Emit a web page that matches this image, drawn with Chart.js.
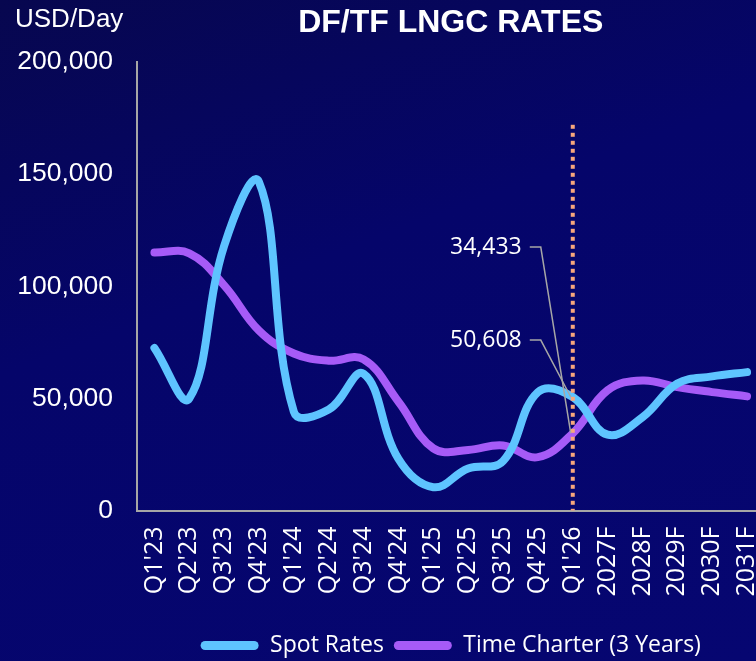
<!DOCTYPE HTML>
<html>
<head>
  <script src="https://cdn.jsdelivr.net/npm/chart.js"></script>
  <style>
    html, body { margin: 0; padding: 0; width: 756px; height: 661px; overflow: hidden; }
    body { background: linear-gradient(160deg, #07074f 0%, #05056a 40%, #060671 100%); }
  </style>
  <script>
    // categories and series
    const categories = ["Q1'23", "Q2'23", "Q3'23", "Q4'23", "Q1'24", "Q2'24", "Q3'24", "Q4'24",
      "Q1'25", "Q2'25", "Q3'25", "Q4'25", "Q1'26", "2027F", "2028F", "2029F", "2030F", "2031F"];
    const spotRates = [72500, 50000, 118000, 146500, 44000, 45000, 61000, 23000, 10400, 18700,
      22000, 52800, 50608, 33800, 41600, 56600, 59800, 61700];
    const timeCharter = [115000, 114700, 100400, 80200, 70000, 66800, 67400, 48500, 27700, 27000,
      29000, 23800, 34433, 53600, 58000, 55000, 52800, 50900];
    const yTicks = [0, 50000, 100000, 150000, 200000];

    const markerIndex = 12; // Q1'26, where the dotted line and labels sit

    // extra drawing: unit label, dotted marker, callout labels
    const extras = {
      id: 'extras',
      afterDatasetsDraw(chart) {
        const ctx = chart.ctx;
        const x = chart.scales.x;
        const y = chart.scales.y;
        const mx = x.getPixelForValue(markerIndex);

        ctx.save();
        // dotted orange line
        ctx.strokeStyle = '#f7a77c';
        ctx.lineWidth = 4;
        ctx.setLineDash([4, 4]);
        ctx.beginPath();
        ctx.moveTo(mx, y.getPixelForValue(172000));
        ctx.lineTo(mx, y.getPixelForValue(0));
        ctx.stroke();
        ctx.setLineDash([]);

        // callouts: label level given in axis units
        const callouts = [
          { ds: 1, level: 117500 },
          { ds: 0, level: 76000 }
        ];
        ctx.font = '23px "Open Sans"';
        ctx.textAlign = 'right';
        ctx.textBaseline = 'middle';
        callouts.forEach(c => {
          const v = chart.data.datasets[c.ds].data[markerIndex];
          const py = y.getPixelForValue(v);
          const ly = y.getPixelForValue(c.level);
          ctx.strokeStyle = '#a6a6a6';
          ctx.lineWidth = 1.5;
          ctx.beginPath();
          ctx.moveTo(mx - 43, ly);
          ctx.lineTo(mx - 32, ly);
          ctx.lineTo(mx - 2, py);
          ctx.stroke();
          ctx.fillStyle = '#ffffff';
          ctx.fillText(v.toLocaleString('en-US'), mx - 51, ly);
        });
        ctx.restore();
      },
      afterDraw(chart) {
        const ctx = chart.ctx;
        ctx.save();
        ctx.font = '26px "Liberation Sans"';
        ctx.fillStyle = '#ffffff';
        ctx.textAlign = 'left';
        ctx.textBaseline = 'middle';
        ctx.fillText('USD/Day', 15, 20);
        ctx.restore();
      }
    };

    window.onload = function() {
      const ctx = document.getElementById('myChart').getContext('2d');
      new Chart(ctx, {
        type: 'line',
        data: {
          labels: categories,
          datasets: [{
            label: 'Spot Rates',
            data: spotRates,
            borderColor: '#5ec4ff',
            backgroundColor: '#5ec4ff',
            borderWidth: 8,
            tension: 0.4,
            pointRadius: 0,
            borderCapStyle: 'round',
            borderJoinStyle: 'round'
          }, {
            label: 'Time Charter (3 Years)',
            data: timeCharter,
            borderColor: '#a65bf7',
            backgroundColor: '#a65bf7',
            borderWidth: 8,
            tension: 0.4,
            pointRadius: 0,
            borderCapStyle: 'round',
            borderJoinStyle: 'round'
          }]
        },
        options: {
          responsive: false,
          animation: false,
          locale: 'en-US',
          layout: { padding: { left: 0, right: 1.5, top: 0, bottom: -6 } },
          scales: {
            x: {
              offset: true,
              grid: { display: false, drawTicks: false },
              border: { display: true, color: '#a6a6a6', width: 2 },
              ticks: {
                color: '#ffffff',
                font: { family: '"Open Sans"', size: 25 },
                minRotation: 90,
                maxRotation: 90,
                autoSkip: false,
                padding: 16
              },
              afterFit(scale) {
                scale.height = 113.5;
                scale.paddingLeft = 0;
                scale.paddingRight = 0;
              }
            },
            y: {
              min: 0,
              max: 200000,
              grid: { display: false, drawTicks: false },
              border: { display: true, color: '#a6a6a6', width: 2 },
              afterBuildTicks(scale) { scale.ticks = yTicks.map(v => ({ value: v })); },
              ticks: {
                color: '#ffffff',
                font: { family: '"Liberation Sans"', size: 26.5 },
                padding: 24,
                callback: v => v.toLocaleString('en-US')
              },
              afterFit(scale) { scale.width = 137; }
            }
          },
          plugins: {
            title: {
              display: true,
              text: 'DF/TF LNGC RATES',
              fullSize: false,
              color: '#ffffff',
              font: { family: '"Liberation Sans"', size: 32, weight: 'bold' },
              padding: { top: 4, bottom: 19.6 }
            },
            legend: {
              position: 'bottom',
              fullSize: false,
              labels: {
                color: '#ffffff',
                font: { family: '"Open Sans"', size: 23 },
                boxWidth: 58,
                boxHeight: 9,
                useBorderRadius: true,
                borderRadius: 4.5,
                padding: 10,
                generateLabels(chart) {
                  return Chart.defaults.plugins.legend.labels.generateLabels(chart)
                    .map(item => Object.assign(item, { lineWidth: 0, fontColor: '#ffffff' }));
                }
              }
            },
            tooltip: { enabled: false }
          }
        },
        plugins: [extras]
      });
    };
  </script>
</head>
<body>
  <canvas id="myChart" width="766" height="661"></canvas>
</body>
</html>
